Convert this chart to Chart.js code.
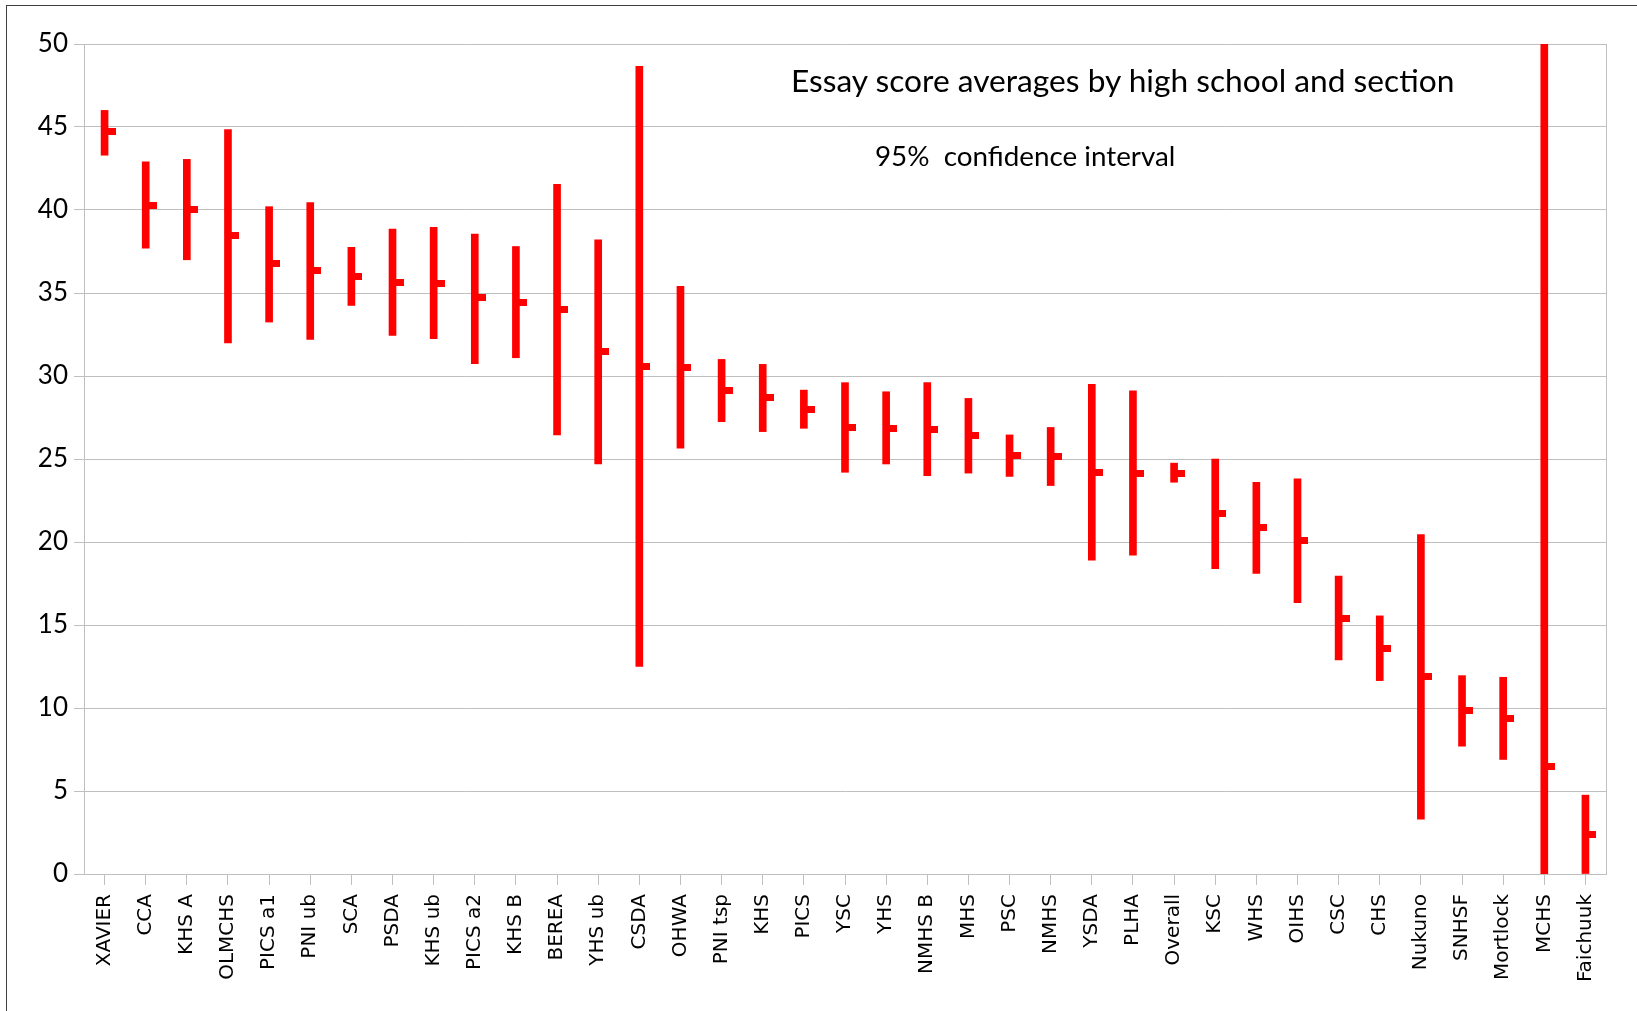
<!DOCTYPE html>
<html>
<head>
<meta charset="utf-8">
<script src="https://cdn.jsdelivr.net/npm/chart.js@4.4.1/dist/chart.umd.min.js"></script>
<style>
html, body { margin: 0; padding: 0; background: #fff; }
#wrap { position: relative; width: 1637px; height: 1011px; overflow: hidden; }
#frame { position: absolute; left: 6px; top: 5px; right: -2px; bottom: -2px;
         border-left: 1px solid #404040; border-top: 1px solid #404040; }
.note { position: absolute; font-family: Lato, sans-serif; color: #000; white-space: pre; }
</style>
</head>
<body>
<div id="wrap">
  <canvas id="chart" width="1637" height="1011"></canvas>
  <div id="frame"></div>
  <div class="note" style="left:791px; top:61px; font-size:31.7px;">Essay score averages by high school and section</div>
  <div class="note" style="left:875px; top:139px; font-size:27.8px;">95%  confidence interval</div>
</div>
<script>
const schools = ['XAVIER', 'CCA', 'KHS A', 'OLMCHS', 'PICS a1', 'PNI ub', 'SCA', 'PSDA', 'KHS ub',
    'PICS a2', 'KHS B', 'BEREA', 'YHS ub', 'CSDA', 'OHWA', 'PNI tsp', 'KHS', 'PICS', 'YSC', 'YHS',
    'NMHS B', 'MHS', 'PSC', 'NMHS', 'YSDA', 'PLHA', 'Overall', 'KSC', 'WHS', 'OIHS', 'CSC', 'CHS',
    'Nukuno', 'SNHSF', 'Mortlock', 'MCHS', 'Faichuuk'];

// 95% interval bounds and the section mean
const lows  = [43.3, 37.7, 37.0, 32.0, 33.25, 32.2, 34.25, 32.45, 32.25, 30.75, 31.1, 26.45, 24.7,
    12.5, 25.65, 27.25, 26.65, 26.85, 24.2, 24.7, 24.0, 24.15, 23.95, 23.4, 18.9, 19.2, 23.6, 18.4,
    18.1, 16.35, 12.9, 11.65, 3.3, 7.7, 6.9, -42, 0];
const highs = [46.0, 42.9, 43.05, 44.85, 40.2, 40.45, 37.75, 38.85, 38.95, 38.55, 37.8, 41.55, 38.2,
    48.65, 35.4, 31.0, 30.7, 29.15, 29.6, 29.05, 29.6, 28.65, 26.45, 26.9, 29.5, 29.1, 24.75, 25.0,
    23.6, 23.8, 17.95, 15.55, 20.45, 11.95, 11.85, 55, 4.75];
const means = [44.7, 40.3, 40.05, 38.45, 36.75, 36.35, 36.0, 35.65, 35.6, 34.7, 34.45, 34.0, 31.45,
    30.6, 30.5, 29.1, 28.7, 28.0, 26.9, 26.85, 26.8, 26.4, 25.2, 25.15, 24.2, 24.15, 24.15, 21.7,
    20.85, 20.1, 15.4, 13.6, 11.9, 9.85, 9.35, 6.5, 2.4];

const yTicks = [0, 5, 10, 15, 20, 25, 30, 35, 40, 45, 50];

// mean marker: a short stub to the right of the line
const stub = document.createElement('canvas');
stub.width = 22;
stub.height = 7;
const sctx = stub.getContext('2d');
sctx.fillStyle = '#ff0000';
sctx.fillRect(11, 0, 11, 7);

const rightEdge = {
    id: 'rightEdge',
    afterDraw(chart) {
        const a = chart.chartArea;
        const c = chart.ctx;
        c.save();
        c.strokeStyle = '#bfbfbf';
        c.lineWidth = 1;
        c.beginPath();
        c.moveTo(Math.round(a.right) + 0.5, a.top);
        c.lineTo(Math.round(a.right) + 0.5, a.bottom);
        c.stroke();
        c.restore();
    }
};

new Chart(document.getElementById('chart'), {
    data: {
        labels: schools,
        datasets: [{
            type: 'line',
            data: means,
            showLine: false,
            pointStyle: stub,
            order: 0
        }, {
            type: 'bar',
            data: schools.map((s, i) => [lows[i], highs[i]]),
            backgroundColor: '#ff0000',
            barThickness: 7,
            clip: 0,
            order: 1
        }]
    },
    options: {
        responsive: false,
        animation: false,
        events: [],
        layout: { padding: { left: 0, top: 44, right: 31, bottom: 0 } },
        plugins: {
            legend: { display: false },
            tooltip: { enabled: false }
        },
        scales: {
            x: {
                offset: true,
                afterFit(scale) { scale.height = 137; },
                grid: { drawOnChartArea: false, offset: false, color: '#bfbfbf', tickLength: 11 },
                border: { color: '#bfbfbf' },
                ticks: {
                    autoSkip: false, maxRotation: 90, minRotation: 90, padding: 9,
                    color: '#000', font: { family: 'DejaVu Sans', size: 20 }
                }
            },
            y: {
                min: 0,
                max: 50,
                afterFit(scale) { scale.width = 84; },
                afterBuildTicks(scale) { scale.ticks = yTicks.map(v => ({ value: v })); },
                grid: { color: '#bfbfbf', tickLength: 10 },
                border: { color: '#bfbfbf' },
                ticks: { color: '#000', padding: 6, font: { family: 'Lato', size: 26 } }
            }
        }
    },
    plugins: [rightEdge]
});
</script>
</body>
</html>
